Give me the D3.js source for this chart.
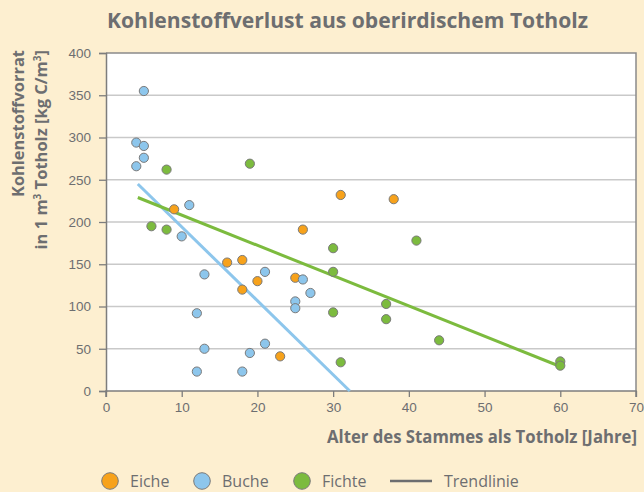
<!DOCTYPE html>
<html lang="de">
<head>
  <meta charset="UTF-8">
  <title>Kohlenstoffverlust aus oberirdischem Totholz</title>
  <script src="https://cdn.jsdelivr.net/npm/d3@7"></script>
  <style>
    body { margin: 0; background: #fdefd0; }
    svg { display: block; font-family: "Open Sans", "Noto Sans", sans-serif; }
  </style>
</head>
<body>
  <div id="chart"></div>
  <script>
    // data: [age in years, kg C per m3]
    const eiche = [[9, 215], [16, 152], [18, 155], [18, 120], [20, 130], [23, 41],
                   [25, 134], [26, 191], [31, 232], [38, 227]];
    const buche = [[5, 355], [4, 294], [5, 290], [5, 276], [4, 266], [11, 220], [10, 183],
                   [13, 138], [21, 141], [12, 92], [13, 50], [19, 45], [21, 56], [12, 23],
                   [18, 23], [26, 132], [27, 116], [25, 106], [25, 98]];
    const fichte = [[8, 262], [19, 269], [6, 195], [8, 191], [41, 178], [30, 169], [30, 141],
                    [37, 103], [30, 93], [37, 85], [44, 60], [31, 34], [60, 35], [60, 30]];
    // trend line end points
    const trendBuche = [[4.2, 245], [32.2, 0]];
    const trendFichte = [[4.2, 229], [60, 29]];
    const xTicks = [0, 10, 20, 30, 40, 50, 60, 70];
    const yTicks = [0, 50, 100, 150, 200, 250, 300, 350, 400];

    const width = 644, height = 492;
    const margin = { top: 53, right: 8, bottom: 101, left: 106 };
    const textColor = "#6d6e70";
    const colors = { eiche: "#f7a21b", buche: "#8dc6ec", fichte: "#7cbb3e" };

    const svg = d3.select("#chart").append("svg")
      .attr("width", width)
      .attr("height", height);

    svg.append("rect").attr("width", width).attr("height", height).attr("fill", "#fdefd0");

    const x = d3.scaleLinear().domain([0, 70]).range([margin.left, width - margin.right]);
    const y = d3.scaleLinear().domain([0, 400]).range([height - margin.bottom, margin.top]);

    // plot background
    svg.append("rect")
      .attr("x", x(0)).attr("y", y(400))
      .attr("width", x(70) - x(0)).attr("height", y(0) - y(400))
      .attr("fill", "#fff");

    // grid
    svg.append("g")
      .selectAll("line")
      .data(yTicks.slice(1, -1))
      .join("line")
      .attr("x1", x(0)).attr("x2", x(70))
      .attr("y1", d => y(d)).attr("y2", d => y(d))
      .attr("stroke", "#c9c9c9")
      .attr("stroke-width", 1.5);

    // frame top and right
    svg.append("path")
      .attr("d", `M${x(0)},${y(400)}H${x(70)}V${y(0)}`)
      .attr("fill", "none")
      .attr("stroke", "#8a8a8a")
      .attr("stroke-width", 1.5);

    // axes
    const xAxis = svg.append("g")
      .attr("transform", `translate(0,${y(0)})`)
      .call(d3.axisBottom(x).tickValues(xTicks).tickSize(6).tickPadding(5));
    const yAxis = svg.append("g")
      .attr("transform", `translate(${x(0)},0)`)
      .call(d3.axisLeft(y).tickValues(yTicks).tickSize(7).tickPadding(8));

    [xAxis, yAxis].forEach(g => {
      g.select(".domain").attr("stroke", "#7d7d7d").attr("stroke-width", 1.5);
      g.selectAll(".tick line").attr("stroke", "#7d7d7d").attr("stroke-width", 1.3);
      g.selectAll(".tick text").attr("fill", textColor).style("font-size", "13.5px");
    });
    xAxis.select(".domain").attr("d", `M${x(0)},6V0H${x(70)}V6`);

    // trend lines
    const line = d3.line().x(d => x(d[0])).y(d => y(d[1]));
    svg.append("path").datum(trendBuche)
      .attr("d", line).attr("fill", "none")
      .attr("stroke", colors.buche).attr("stroke-width", 3);
    svg.append("path").datum(trendFichte)
      .attr("d", line).attr("fill", "none")
      .attr("stroke", colors.fichte).attr("stroke-width", 3);

    // points
    const series = [[eiche, colors.eiche], [buche, colors.buche], [fichte, colors.fichte]];
    series.forEach(([data, c]) => {
      svg.append("g")
        .selectAll("circle")
        .data(data)
        .join("circle")
        .attr("cx", d => x(d[0]))
        .attr("cy", d => y(d[1]))
        .attr("r", 4.6)
        .attr("fill", c)
        .attr("stroke", "#7a7a7a")
        .attr("stroke-width", 1);
    });

    // title
    svg.append("text")
      .attr("x", 347.5).attr("y", 28)
      .attr("text-anchor", "middle")
      .attr("fill", textColor)
      .style("font-size", "22px")
      .style("font-weight", "bold")
      .attr("textLength", 481)
      .attr("lengthAdjust", "spacingAndGlyphs")
      .text("Kohlenstoffverlust aus oberirdischem Totholz");

    // x axis title
    svg.append("text")
      .attr("x", 637).attr("y", 443)
      .attr("text-anchor", "end")
      .attr("fill", textColor)
      .style("font-size", "17px")
      .style("font-weight", "bold")
      .attr("textLength", 310)
      .attr("lengthAdjust", "spacingAndGlyphs")
      .text("Alter des Stammes als Totholz [Jahre]");

    // y axis title
    const yTitle = svg.append("text")
      .attr("transform", "translate(0,50) rotate(-90)")
      .attr("text-anchor", "end")
      .attr("fill", textColor)
      .style("font-size", "16.5px")
      .style("font-weight", "bold");
    yTitle.append("tspan").attr("x", 0).attr("y", 24)
      .attr("textLength", 147)
      .attr("lengthAdjust", "spacingAndGlyphs")
      .text("Kohlenstoffvorrat");
    yTitle.append("tspan").attr("x", 0).attr("y", 47)
      .html("in 1 m<tspan dy='-6' font-size='10px'>3</tspan><tspan dy='6'> Totholz [kg C/m</tspan><tspan dy='-6' font-size='10px'>3</tspan><tspan dy='6'>]</tspan>");

    // legend
    const legend = svg.append("g").attr("transform", "translate(0,481)");
    const legendItems = [["Eiche", colors.eiche, 110], ["Buche", colors.buche, 202], ["Fichte", colors.fichte, 302]];
    legendItems.forEach(([name, c, lx]) => {
      legend.append("circle")
        .attr("cx", lx).attr("cy", 0).attr("r", 8.3)
        .attr("fill", c).attr("stroke", "#7a7a7a").attr("stroke-width", 1);
      legend.append("text")
        .attr("x", lx + 20).attr("y", 5.5)
        .attr("fill", textColor)
        .style("font-size", "16px")
        .text(name);
    });
    legend.append("line")
      .attr("x1", 390).attr("x2", 432).attr("y1", 0).attr("y2", 0)
      .attr("stroke", "#6d6e70").attr("stroke-width", 2.5);
    legend.append("text")
      .attr("x", 444).attr("y", 5.5)
      .attr("fill", textColor)
      .style("font-size", "16px")
      .text("Trendlinie");
  </script>
</body>
</html>
